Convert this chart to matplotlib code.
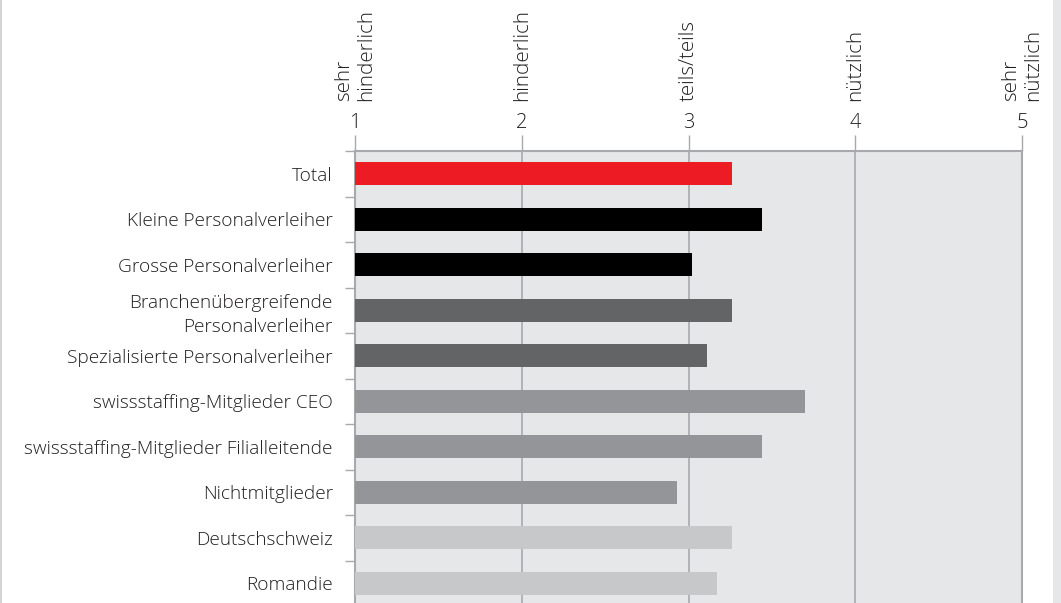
import numpy as np
import matplotlib.pyplot as plt
import matplotlib.transforms as mtransforms
from matplotlib.patches import Rectangle

# --- data ---
categories = [
    "Total",
    "Kleine Personalverleiher",
    "Grosse Personalverleiher",
    "Branchenübergreifende\nPersonalverleiher",
    "Spezialisierte Personalverleiher",
    "swissstaffing-Mitglieder CEO",
    "swissstaffing-Mitglieder Filialleitende",
    "Nichtmitglieder",
    "Deutschschweiz",
    "Romandie",
]
values = [3.26, 3.44, 3.02, 3.26, 3.11, 3.70, 3.44, 2.93, 3.26, 3.17]
bar_colors = ["#ED1C24", "#000000", "#000000", "#636466", "#636466",
              "#939598", "#939598", "#939598", "#C7C8CA", "#C7C8CA"]
scale_ticks = [1, 2, 3, 4, 5]
scale_labels = ["sehr\nhinderlich", "hinderlich", "teils/teils", "nützlich", "sehr\nnützlich"]

TEXT = "#231F20"
GRID = "#A7A9AC"
BG = "#E6E7E8"

plt.rcParams['font.family'] = ['Open Sans', 'DejaVu Sans']

fig = plt.figure(figsize=(10.61, 6.03), dpi=100)
ax = fig.add_axes([355 / 1061, 0.0, (1022 - 355) / 1061, 1 - 151 / 603])
ax.set_facecolor(BG)

y = np.arange(len(categories))
ax.barh(y, np.array(values) - 1, left=1, height=0.5, color=bar_colors, zorder=3)

ax.set_xlim(1, 5)
ax.set_ylim(9.434, -0.5)

# top axis with numbers
ax.xaxis.set_ticks_position('top')
ax.set_xticks(scale_ticks)
ax.set_xticklabels([str(t) for t in scale_ticks], fontsize=14.5, color=TEXT,
                   fontweight='light')
ax.tick_params(axis='x', direction='out', length=11.5, width=1, color=GRID, pad=1.5)
ax.grid(axis='x', color=GRID, linewidth=1.2, zorder=1)

# category labels, boundary ticks between rows
ax.set_yticks(y)
ax.set_yticklabels(categories, fontsize=13.7, color=TEXT, linespacing=1.4,
                   fontweight='light')
ax.tick_params(axis='y', which='major', length=0, pad=16)
ax.set_yticks(np.arange(len(categories)) - 0.5, minor=True)
ax.tick_params(axis='y', which='minor', direction='out', length=7, width=1, color=GRID)

for side in ['left', 'top', 'right']:
    ax.spines[side].set_color(GRID)
    ax.spines[side].set_linewidth(1.5)
ax.spines['bottom'].set_visible(False)

# verbal scale labels above the numbers
trans = mtransforms.blended_transform_factory(ax.transData, fig.transFigure)
for t, lab in zip(scale_ticks, scale_labels):
    ax.text(t, 1 - 101 / 603, lab, transform=trans, rotation=90, ha='center',
            va='bottom', multialignment='left', fontsize=14.8, color=TEXT,
            linespacing=1.12, fontweight='light')

# page edges
fig.patches.append(Rectangle((1053 / 1061, 0), 8 / 1061, 1, transform=fig.transFigure,
                             facecolor=BG, edgecolor='none'))
fig.patches.append(Rectangle((0, 0), 1.5 / 1061, 1, transform=fig.transFigure,
                             facecolor="#D1D3D4", edgecolor='none'))

fig.savefig("out.png", dpi=100)
